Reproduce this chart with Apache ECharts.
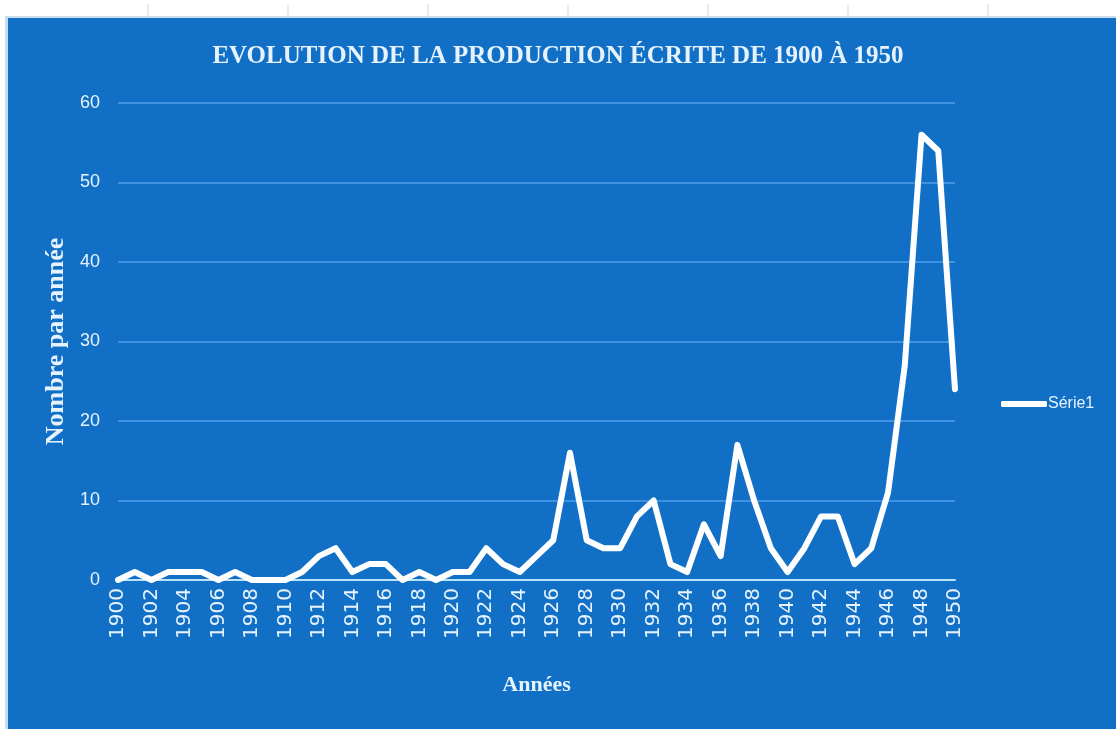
<!DOCTYPE html>
<html><head><meta charset="utf-8">
<script src="https://cdn.jsdelivr.net/npm/echarts@6/dist/echarts.min.js"></script>
<style>html,body{margin:0;padding:0;background:#fff}#c{width:1116px;height:729px}</style>
</head><body><div id="c"></div>
<script>
const years = ['1900','1901','1902','1903','1904','1905','1906','1907','1908','1909','1910','1911','1912','1913','1914','1915','1916','1917','1918','1919','1920','1921','1922','1923','1924','1925','1926','1927','1928','1929','1930','1931','1932','1933','1934','1935','1936','1937','1938','1939','1940','1941','1942','1943','1944','1945','1946','1947','1948','1949','1950'];
const serie1 = [0,1,0,1,1,1,0,1,0,0,0,1,3,4,1,2,2,0,1,0,1,1,4,2,1,3,5,16,5,4,4,8,10,2,1,7,3,17,10,4,1,4,8,8,2,4,11,27,56,54,24];
const yTicks = [0,10,20,30,40,50,60];
const titleText = 'EVOLUTION DE LA PRODUCTION ÉCRITE DE 1900 À 1950';
const seriesName = 'Série1';

const BLUE = '#1170c6';
const PALE = '#e6f3ff';
const chart = echarts.init(document.getElementById('c'), null, {renderer:'canvas'});
const topTicks = [148,288,428,568,708,848,988].map(x => ({
  type:'line', shape:{x1:x,y1:4,x2:x,y2:17}, style:{stroke:'#d4d8dc',lineWidth:1}, silent:true
}));
chart.setOption({
  backgroundColor:'#ffffff',
  animation:false,
  graphic:[
    {type:'rect', shape:{x:5,y:16,width:1111,height:713}, style:{fill:'#c9dcec'}, z:-2, silent:true},
    {type:'rect', shape:{x:8,y:18,width:1108,height:711}, style:{fill:BLUE}, z:-1, silent:true},
    ...topTicks
  ],
  title:{
    text:titleText, left:'center', top:39,
    textStyle:{fontFamily:'Liberation Serif', fontWeight:'bold', fontSize:25, color:PALE}
  },
  legend:{
    data:[seriesName], left:996, top:391, icon:'roundRect', itemWidth:46, itemHeight:6,
    itemGap:0,
    textStyle:{fontFamily:'Liberation Sans', fontSize:16, color:PALE, padding:[0,0,0,-4]}
  },
  grid:{left:118, right:161, top:103, bottom:149},
  xAxis:{
    type:'category', data:years, boundaryGap:false,
    name:'Années', nameLocation:'middle', nameGap:94,
    nameTextStyle:{fontFamily:'Liberation Serif', fontWeight:'bold', fontSize:22, color:PALE},
    axisLine:{show:true, lineStyle:{color:'#b8e2f6', width:2}},
    axisTick:{show:false},
    axisLabel:{interval:1, rotate:90, margin:8, fontFamily:'DejaVu Sans', fontSize:20, color:PALE},
    splitLine:{show:false}
  },
  yAxis:{
    type:'value', min:0, max:60, interval:10,
    name:'Nombre par année', nameLocation:'middle', nameGap:46, nameRotate:90,
    nameTextStyle:{fontFamily:'Liberation Serif', fontWeight:'bold', fontSize:26, color:PALE},
    axisLine:{show:false}, axisTick:{show:false},
    axisLabel:{margin:18, fontFamily:'Liberation Sans', fontSize:18, color:PALE,
      formatter:v => yTicks.includes(v) ? String(v) : ''},
    splitLine:{show:true, lineStyle:{color:'#4f9ee8', width:1.5}}
  },
  series:[{
    name:seriesName, type:'line', data:serie1, showSymbol:false, symbol:'none',
    lineStyle:{color:'#ffffff', width:6, join:'round', cap:'round'},
    itemStyle:{color:'#ffffff'}
  }]
});
</script></body></html>
